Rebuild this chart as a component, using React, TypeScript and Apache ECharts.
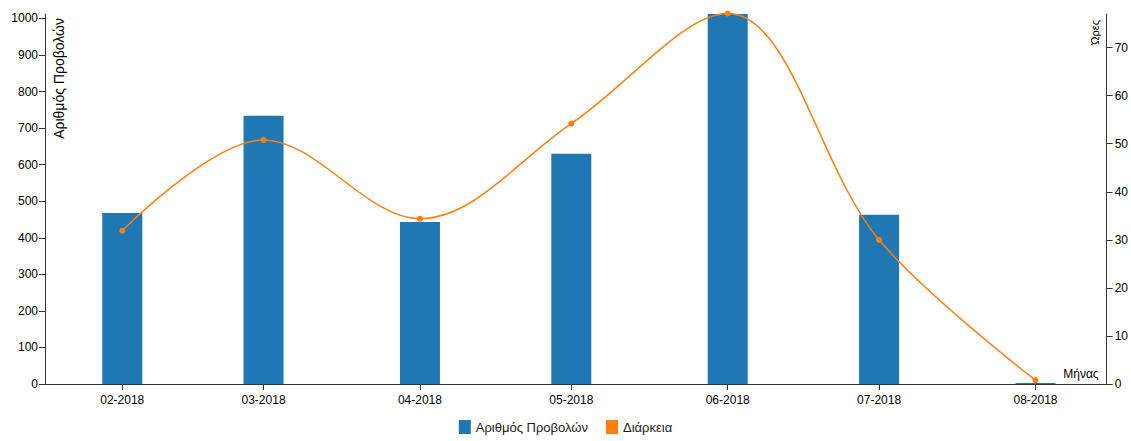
import React, { useEffect, useRef } from "react";
import * as echarts from "echarts";

const months: string[] = ["2018-02", "2018-03", "2018-04", "2018-05", "2018-06", "2018-07", "2018-08"];
const views: number[] = [468, 734, 443, 630, 1012, 463, 3];
const hours: number[] = [31.9, 50.8, 34.4, 54.2, 77.1, 30.0, 0.8];
const xRange: string[] = ["2018-01-20T15:00:00", "2018-08-11T04:00:00"];

const toTime = (m: string) => {
  const [y, mo] = m.split("-").map(Number);
  return new Date(y, mo - 1, 1).getTime();
};

const pad2 = (n: number) => (n < 10 ? "0" + n : "" + n);

export default function App() {
  const ref = useRef<HTMLDivElement>(null);
  useEffect(() => {
    if (!ref.current) return;
    const chart = echarts.init(ref.current, undefined, { renderer: "svg" });
    const font = "Liberation Sans, Arial, sans-serif";
    const axisColor = "#333";
    chart.setOption({
      animation: false,
      textStyle: { fontFamily: font },
      grid: { left: 45, right: 18, top: 14, bottom: 57, containLabel: false },
      legend: {
        bottom: 2,
        left: "center",
        icon: "rect",
        itemWidth: 12,
        itemHeight: 14,
        itemGap: 18,
        textStyle: { fontSize: 13, color: "#222", fontFamily: font },
        data: ["Αριθμός Προβολών", "Διάρκεια"],
      },
      xAxis: {
        type: "time",
        min: new Date(xRange[0]).getTime(),
        max: new Date(xRange[1]).getTime(),
        splitNumber: 8,
        maxInterval: 31 * 86400000,
        minInterval: 28 * 86400000,
        name: "Μήνας",
        nameLocation: "end",
        nameGap: -8,
        nameTextStyle: { align: "right", verticalAlign: "bottom", padding: [0, 0, 4, 0], fontSize: 12, color: "#000" },
        axisLine: { lineStyle: { color: axisColor, width: 1 } },
        axisTick: { show: true, length: 6, lineStyle: { color: axisColor } },
        splitLine: { show: false },
        axisLabel: {
          color: "#000",
          fontSize: 12,
          margin: 10,
          showMinLabel: false,
          showMaxLabel: false,
          formatter: (v: number) => {
            const d = new Date(v);
            return pad2(d.getMonth() + 1) + "-" + d.getFullYear();
          },
        },
      },
      yAxis: [
        {
          type: "value",
          min: 0,
          max: 1012,
          interval: 100,
          name: "Αριθμός Προβολών",
          nameLocation: "end",
          nameRotate: 90,
          nameGap: -4,
          nameTextStyle: { align: "right", verticalAlign: "top", padding: [7, 0, 0, 0], fontSize: 14, color: "#000" },
          axisLine: { show: true, lineStyle: { color: axisColor } },
          axisTick: { show: true, length: 6, lineStyle: { color: axisColor } },
          splitLine: { show: false },
          axisLabel: { color: "#000", fontSize: 12, margin: 7, showMaxLabel: false, formatter: (v: number) => String(v) },
        },
        {
          type: "value",
          min: 0,
          max: 77,
          interval: 10,
          name: "Ώρες",
          nameLocation: "end",
          nameRotate: 90,
          nameGap: -6,
          nameTextStyle: { align: "right", verticalAlign: "bottom", padding: [0, 0, 6, 0], fontSize: 11, color: "#000" },
          axisLine: { show: true, lineStyle: { color: axisColor } },
          axisTick: { show: true, length: 6, lineStyle: { color: axisColor } },
          splitLine: { show: false },
          axisLabel: { color: "#000", fontSize: 12, margin: 8, showMaxLabel: false, formatter: (v: number) => String(v) },
        },
      ],
      series: [
        {
          name: "Αριθμός Προβολών",
          type: "bar",
          yAxisIndex: 0,
          barWidth: 40,
          itemStyle: { color: "#1f77b4" },
          data: months.map((m, i) => [toTime(m), views[i]]),
        },
        {
          name: "Διάρκεια",
          type: "line",
          yAxisIndex: 1,
          smooth: 0.35,
          clip: false,
          symbol: "circle",
          symbolSize: 6,
          itemStyle: { color: "#ff7f0e" },
          lineStyle: { color: "#ff7f0e", width: 1.5 },
          data: months.map((m, i) => [toTime(m), hours[i]]),
        },
      ],
    });
    return () => chart.dispose();
  }, []);
  return <div ref={ref} style={{ position: "absolute", left: 0, top: 0, width: 1131, height: 441 }} />;
}
